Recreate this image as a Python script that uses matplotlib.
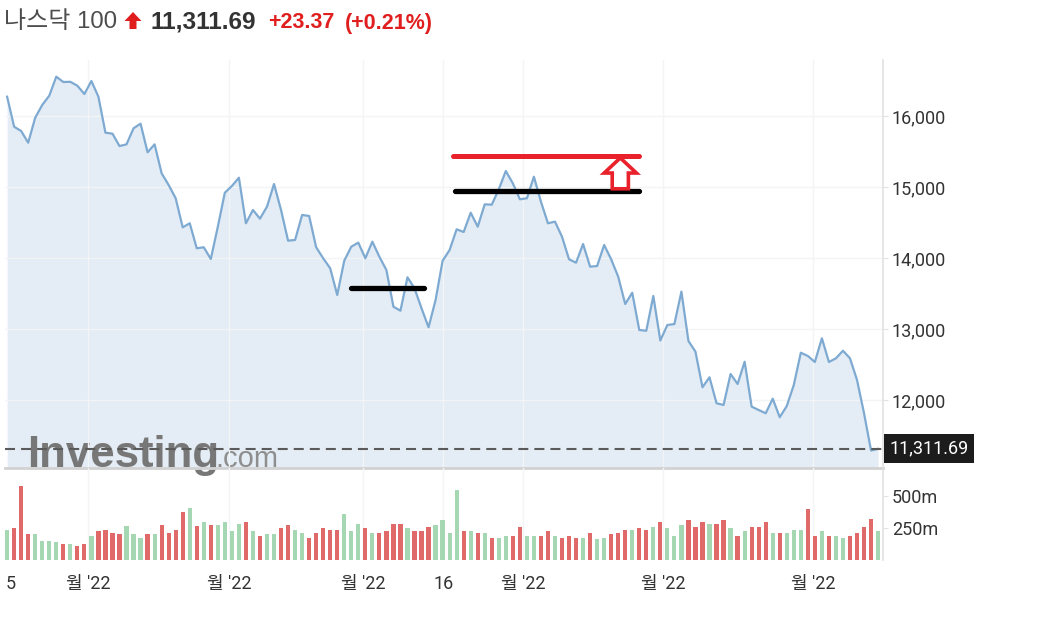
import matplotlib
matplotlib.use("Agg")
import matplotlib.pyplot as plt
import matplotlib.transforms as mtransforms
from matplotlib.patches import Polygon
import numpy as np

plt.rcParams['font.family'] = ['Roboto', 'Noto Sans CJK KR', 'DejaVu Sans']

# daily closes, Nasdaq 100
closes = [
    16272, 15849, 15789, 15624, 15976, 16155, 16286, 16554, 16479, 16482,
    16427, 16310, 16493, 16272, 15765, 15751, 15577, 15601, 15827, 15892,
    15489, 15601, 15193, 15028, 14841, 14432, 14489, 14137, 14151, 13986,
    14440, 14920, 15014, 15131, 14489, 14676, 14554, 14723, 15042, 14676,
    14244, 14254, 14606, 14592, 14151, 13996, 13855, 13479, 13962, 14159,
    14216, 13996, 14230, 14018, 13831, 13314, 13258, 13728, 13573, 13292,
    13024, 13408, 13960, 14113, 14404, 14366, 14638, 14441, 14756, 14751,
    14968, 15225, 15052, 14827, 14841, 15145, 14793, 14489, 14512, 14300,
    13982, 13934, 14197, 13878, 13887, 14183, 13982, 13737, 13352, 13511,
    12986, 12975, 13465, 12838, 13056, 13070, 13526, 12831, 12681, 12179,
    12320, 11954, 11930, 12366, 12225, 12539, 11906, 11859, 11813, 12018,
    11757, 11915, 12211, 12666, 12620, 12535, 12869, 12535, 12587, 12694,
    12587, 12282, 11813, 11288, 11311.69,
]

# volume in millions
volumes = [
    234, 248, 578, 200, 200, 148, 148, 138, 128, 128,
    112, 125, 187, 224, 234, 211, 200, 263, 200, 174,
    200, 200, 273, 211, 237, 372, 409, 263, 297, 276,
    276, 297, 224, 284, 297, 224, 187, 200, 200, 248,
    273, 234, 211, 174, 211, 248, 237, 237, 359, 224,
    284, 248, 211, 211, 224, 284, 284, 248, 224, 224,
    260, 273, 310, 211, 547, 224, 224, 211, 211, 174,
    174, 190, 187, 260, 190, 187, 190, 224, 187, 174,
    190, 174, 174, 211, 161, 174, 200, 211, 234, 234,
    248, 234, 260, 297, 248, 190, 273, 310, 260, 297,
    284, 284, 310, 248, 187, 224, 260, 260, 297, 211,
    211, 211, 234, 234, 396, 187, 224, 190, 187, 174,
    187, 211, 260, 321, 224,
]

tick_pos = [0.55, 11.5, 31.6, 50.7, 62.1, 73.5, 93.4, 114.7]
tick_labels = ["5", "월 '22", "월 '22", "월 '22", "16", "월 '22", "월 '22", "월 '22"]
price_ticks = [12000, 13000, 14000, 15000, 16000]
vol_ticks = [250, 500]
vol_tick_labels = ["250m", "500m"]

# hand-drawn levels: (start, end, level)
support = (48.9, 59.4, 13577)
resist = (63.8, 89.9, 14944)
target = (63.5, 90.0, 15437)
arrow_x, arrow_tip, arrow_neck, arrow_base = 87.3, 15410, 15197, 14975

last = closes[-1]
x = np.arange(len(closes))
up = np.diff(closes, prepend=closes[0] - 1) >= 0
bar_colors = ['#a6d7b3' if u else '#e06a6a' for u in up]

W, H = 1053, 618
fig = plt.figure(figsize=(W / 100, H / 100), dpi=100)


def box(x0, y0, x1, y1):
    return [x0 / W, 1 - y1 / H, (x1 - x0) / W, (y1 - y0) / H]


ymin, ymax = 11042, 16789
ax = fig.add_axes(box(5, 60, 883, 468))
axv = fig.add_axes(box(5, 468, 883, 560), sharex=ax)
axv.patch.set_visible(False)

ax.set_xlim(-0.3, 124.7)
ax.set_ylim(ymin, ymax)

ax.fill_between(x, closes, ymin, color='#e4edf5', lw=0, zorder=1)
ax.plot(x, closes, color='#7eaad2', lw=1.6, zorder=2)
ax.axhline(last, color='#5a5a5a', lw=1.5, dashes=(4.8, 2.9), zorder=3)

# annotations drawn on top of the chart
for x0, x1, lvl in (support, resist):
    ax.plot([x0, x1], [lvl, lvl], color='black', lw=3.8, solid_capstyle='round', zorder=4)
ax.plot([target[0], target[1]], [target[2], target[2]], color='#e8212b', lw=3.6,
        solid_capstyle='round', zorder=4)
hw, sw = 2.3, 1.15
arrow = Polygon([(arrow_x, arrow_tip), (arrow_x - hw, arrow_neck), (arrow_x - sw, arrow_neck),
                 (arrow_x - sw, arrow_base), (arrow_x + sw, arrow_base), (arrow_x + sw, arrow_neck),
                 (arrow_x + hw, arrow_neck)], closed=True, fc='white', ec='#e8212b', lw=2.6,
                joinstyle='miter', zorder=5)
ax.add_patch(arrow)

ax.set_yticks(price_ticks)
ax.set_yticklabels([f'{v:,}' for v in price_ticks])
ax.yaxis.tick_right()
ax.tick_params(axis='y', length=3.6, color='#e2e2e2', labelsize=13, labelcolor='#333333', pad=2.8)
ax.tick_params(axis='x', length=0, labelbottom=False)
ax.set_xticks(tick_pos)
ax.grid(True, color='#f2f4f6', lw=1)
for s in ('top', 'left'):
    ax.spines[s].set_visible(False)
ax.spines['right'].set_color('#e2e2e2')
ax.spines['right'].set_linewidth(1.2)
ax.spines['bottom'].set_color('#d2d2d2')
ax.spines['bottom'].set_linewidth(2)

# last price tag
ax.annotate(f'{last:,.2f}', xy=(1, last),
            xycoords=mtransforms.blended_transform_factory(ax.transAxes, ax.transData),
            xytext=(4.4, 0), textcoords='offset points', ha='left', va='center',
            color='white', fontsize=13, annotation_clip=False, zorder=6,
            bbox=dict(boxstyle='square,pad=0.3', fc='#1c1c1c', ec='none'))

# watermark
ax.text(27 / W, 1 - 467 / H, 'Investing', transform=fig.transFigure, fontsize=31.5,
        fontweight='bold', family=['Liberation Sans'], color='#777777', zorder=1.5)
ax.text(215 / W, 1 - 467 / H, '.com', transform=fig.transFigure, fontsize=21,
        family=['Liberation Sans'], color='#8e8e8e', zorder=1.5)

# volume
axv.bar(x, volumes, width=0.6, color=bar_colors, zorder=2)
axv.set_ylim(0, 719)
axv.set_yticks(vol_ticks)
axv.set_yticklabels(vol_tick_labels)
axv.yaxis.tick_right()
axv.tick_params(axis='y', length=3.6, color='#e2e2e2', labelsize=13, labelcolor='#333333', pad=2.8)
axv.set_xticks(tick_pos)
axv.set_xticklabels(tick_labels)
axv.tick_params(axis='x', length=0, labelsize=13, labelcolor='#333333', pad=11)
axv.grid(True, axis='x', color='#f2f4f6', lw=1, zorder=0)
axv.get_xgridlines()[0].set_visible(False)
for s in ('top', 'left', 'bottom'):
    axv.spines[s].set_visible(False)
axv.spines['right'].set_color('#e2e2e2')
axv.spines['right'].set_linewidth(1.2)
ax.get_xgridlines()[0].set_visible(False)

# header
hdr = ['Liberation Sans', 'Noto Sans CJK KR']
base = 1 - 28.5 / H
fig.text(4 / W, base, '나스닥 100', fontsize=17.3, family=hdr, color='#4d4d4d', va='baseline')
fig.text(150 / W, base, f'{last:,.2f}', fontsize=17.6, family=hdr, fontweight='bold',
         color='#333333', va='baseline')
fig.text(268 / W, base, '+23.37', fontsize=15.5, family=hdr, fontweight='bold',
         color='#e01e1e', va='baseline')
fig.text(345 / W, base, '(+0.21%)', fontsize=15.5, family=hdr, fontweight='bold',
         color='#e01e1e', va='baseline')
pts = [(133, 12), (124.5, 21), (129.5, 21), (129.5, 29), (136.5, 29), (136.5, 21), (141.5, 21)]
fig.patches.append(Polygon([(px / W, 1 - py / H) for px, py in pts], closed=True,
                           fc='#e01e1e', ec='none', transform=fig.transFigure))

fig.savefig('out.png', dpi=100)
